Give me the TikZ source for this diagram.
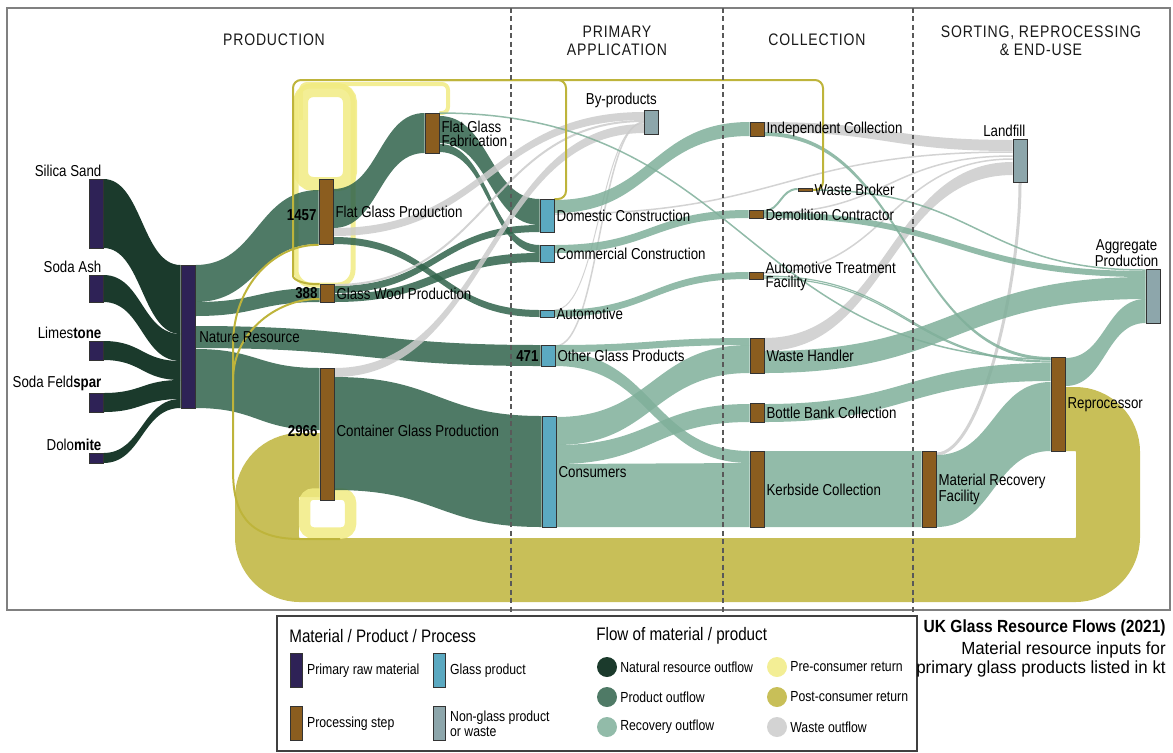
\documentclass[tikz,border=0pt]{standalone}
\usepackage{fontspec}
\setmainfont{Liberation Sans}[FakeStretch=0.84]
\newfontfamily\headfont{Liberation Sans}[FakeStretch=0.84,LetterSpace=5]
\newfontfamily\titlefont{Liberation Sans}[FakeStretch=0.96]
\newfontfamily\titleboldfont{Liberation Sans}[FakeStretch=0.885]
\usetikzlibrary{positioning,calc,backgrounds}

\definecolor{rawcol}{HTML}{2E2256}
\definecolor{proccol}{HTML}{8B5D1F}
\definecolor{glasscol}{HTML}{5BA9C1}
\definecolor{wastecol}{HTML}{8DA6AB}
\definecolor{natcol}{HTML}{1B3A2C}
\definecolor{prodcol}{RGB}{48,99,75}
\definecolor{reccol}{RGB}{127,175,154}
\definecolor{graycol}{RGB}{203,203,203}
\definecolor{precol}{RGB}{241,235,131}
\definecolor{postcol}{RGB}{190,180,59}

% band between two bars: style, from, top, bottom, to, top, bottom (px below the bar tops)
\newcommand{\flowband}[7]{%
  \fill[#1] let \p1=($(#2.north east)+(0,#3)$), \p2=($(#2.north east)+(0,#4)$),
    \p3=($(#5.north west)+(0,#6)$), \p4=($(#5.north west)+(0,#7)$) in
    (\p1) .. controls ({0.5*\x1+0.5*\x3},\y1) and ({0.5*\x1+0.5*\x3},\y3) .. (\p3)
    -- (\p4) .. controls ({0.5*\x1+0.5*\x3},\y4) and ({0.5*\x1+0.5*\x3},\y2) .. (\p2) -- cycle;}
% thin flow: style, from, offset, to, offset
\newcommand{\flowline}[5]{%
  \draw[#1] let \p1=($(#2.north east)+(0,#3)$), \p2=($(#4.north west)+(0,#5)$) in
    (\p1) .. controls ({0.5*\x1+0.5*\x2},\y1) and ({0.5*\x1+0.5*\x2},\y2) .. (\p2);}

\begin{document}
\begin{tikzpicture}[x=0.02cm, y=-0.02cm,
    rawbar/.style={draw=black!80, line width=0.5pt, fill=rawcol, inner sep=0pt, minimum width=0.28cm, anchor=north},
    procbar/.style={rawbar, fill=proccol},
    glassbar/.style={rawbar, fill=glasscol},
    wastebar/.style={rawbar, fill=wastecol},
    hgt/.style={minimum height=#1*0.02cm},
    lbl/.style={font=\fontsize{9}{8}\selectfont, inner sep=1pt, align=left},
    numlbl/.style={font=\bfseries\fontsize{9}{8}\selectfont, inner sep=1pt},
    sechead/.style={font=\headfont\fontsize{9.5}{10.2}\selectfont, align=center, text=black!90},
    natflow/.style={fill=natcol},
    prodflow/.style={fill=prodcol, fill opacity=0.85},
    recflow/.style={fill=reccol, fill opacity=0.85},
    wasteflow/.style={fill=graycol, fill opacity=0.85},
    recline/.style={draw=reccol, draw opacity=0.85, line width=#1*0.02cm},
    wasteline/.style={draw=graycol, draw opacity=0.85, line width=#1*0.02cm},
    preloop/.style={draw=precol, draw opacity=0.85},
    postband/.style={draw=postcol, draw opacity=0.85, line width=1.28cm, rounded corners=0.66cm},
    postline/.style={draw=postcol, line width=0.04cm},
    frame/.style={draw=black!50, line width=0.7pt},
    sect/.style={draw=black!65, line width=0.6pt, dash pattern=on 2.8pt off 2pt},
    legsw/.style={draw=black!80, line width=0.5pt, minimum width=0.24cm, minimum height=0.68cm, inner sep=0pt, anchor=north},
    legdot/.style={circle, minimum size=0.4cm, inner sep=0pt},
    legtxt/.style={font=\fontsize{8.3}{8.5}\selectfont, inner sep=1pt, align=left},
    leghead/.style={font=\fontsize{10.3}{12}\selectfont, inner sep=0pt, anchor=west}
]
    \useasboundingbox (0,0) rectangle (1173,752);

    % Raw materials
    \node[rawbar, hgt=69] (silica) at (96,179) {};
    \node[rawbar, hgt=27] (sodaash) at (96,275) {};
    \node[rawbar, hgt=19] (limestone) at (96,341) {};
    \node[rawbar, hgt=19] (feldspar) at (96,393) {};
    \node[rawbar, hgt=10] (dolomite) at (96,453) {};
    \node[rawbar, hgt=143] (natres) at (188,265) {};

    % Processing steps
    \node[procbar, hgt=65] (fgp) at (326,179) {};
    \node[procbar, hgt=18] (gwp) at (327,284) {};
    \node[procbar, hgt=132] (cgp) at (327,368) {};
    \node[procbar, hgt=40] (fgf) at (432,113) {};
    \node[procbar, hgt=14] (indcol) at (757,122) {};
    \node[procbar, hgt=3] (wbroker) at (805,188) {};
    \node[procbar, hgt=8] (demol) at (756,210) {};
    \node[procbar, hgt=7] (atf) at (756,272) {};
    \node[procbar, hgt=35] (whandler) at (757,338) {};
    \node[procbar, hgt=19] (bbank) at (757,403) {};
    \node[procbar, hgt=76] (kerb) at (757,451) {};
    \node[procbar, hgt=76] (mrf) at (929,451) {};
    \node[procbar, hgt=94] (reproc) at (1058,357) {};

    % Glass products
    \node[glassbar, hgt=33] (domcon) at (547,199) {};
    \node[glassbar, hgt=17] (comcon) at (547,245) {};
    \node[glassbar, hgt=7] (auto) at (547,310) {};
    \node[glassbar, hgt=21] (ogp) at (548,345) {};
    \node[glassbar, hgt=111] (consumers) at (549,416) {};

    % Non-glass products and waste
    \node[wastebar, hgt=24] (byprod) at (651.5,110) {};
    \node[wastebar, hgt=43] (landfill) at (1020,139) {};
    \node[wastebar, hgt=54] (aggreg) at (1153,269) {};

    \begin{scope}[on background layer]
    % Frame
    \draw[frame] (7,8) rectangle (1170,610);

    % Post-consumer return
    \draw[postband] ($(reproc.north east)+(0,62)$) -- (1108,419) -- (1108,570) -- (267,570) -- (267,465) -- ($(cgp.north west)+(0,97)$);

    % Pre-consumer return
    \draw[preloop, line width=0.28cm, rounded corners=0.24cm] (326,184) -- (350,184) -- (350,90) -- (301,90) -- (301,184) -- cycle;
    \draw[preloop, line width=0.1cm, rounded corners=0.3cm] (327,285) -- (353,285) -- (353,86) -- (296,86) -- (296,285) -- cycle;
    \draw[preloop, line width=0.23cm, rounded corners=0.18cm] (327,494) -- (350.5,494) -- (350.5,533) -- (304.5,533) -- (304.5,494) -- cycle;
    \draw[preloop, line width=0.08cm, rounded corners=0.12cm] (fgf.north east) -- (448,113) -- (448,84) -- (301,84) -- (301,120);

    % Natural resource outflow
    \flowband{natflow}{silica}{0}{69}{natres}{0}{69}
    \flowband{natflow}{sodaash}{0}{27}{natres}{69}{96}
    \flowband{natflow}{limestone}{0}{19}{natres}{96}{115}
    \flowband{natflow}{feldspar}{0}{19}{natres}{115}{134}
    \flowband{natflow}{dolomite}{0}{10}{natres}{134}{143}

    % Product outflow
    \flowband{prodflow}{natres}{0}{37}{fgp}{11}{65}
    \flowband{prodflow}{natres}{37}{51}{gwp}{4}{18}
    \flowband{prodflow}{natres}{61}{83}{ogp}{0}{21}
    \flowband{prodflow}{natres}{84}{143}{cgp}{0}{62}
    \flowband{prodflow}{fgp}{10}{49}{fgf}{0}{40}
    \flowband{prodflow}{fgp}{58}{65}{auto}{0}{7}
    \flowband{prodflow}{fgf}{3}{30}{domcon}{0}{26}
    \flowband{prodflow}{fgf}{31}{39}{comcon}{0}{8}
    \flowband{prodflow}{gwp}{2}{9}{domcon}{26}{33}
    \flowband{prodflow}{gwp}{10}{18}{comcon}{8}{17}
    \flowband{prodflow}{cgp}{9}{122}{consumers}{0}{111}

    % Waste outflow
    \flowband{wasteflow}{fgp}{49}{57}{byprod}{2}{10}
    \flowband{wasteflow}{cgp}{0}{9}{byprod}{14}{23}
    \flowline{wasteline=2}{gwp}{1}{byprod}{11}
    \flowline{wasteline=1.5}{ogp}{1}{byprod}{12}
    \flowline{wasteline=1}{auto}{0}{byprod}{13}
    \flowband{wasteflow}{indcol}{0}{10}{landfill}{1}{12}
    \flowline{wasteline=1.5}{domcon}{15}{landfill}{13}
    \flowline{wasteline=1.5}{demol}{3}{landfill}{17}
    \flowline{wasteline=1.5}{atf}{1}{landfill}{20}
    \flowband{wasteflow}{whandler}{0}{13}{landfill}{23}{36}
    \draw[wasteline=3] ($(mrf.north east)+(0,3)$) .. controls +(45,0) and +(0,100) .. (landfill.south);

    % Recovery outflow
    \flowband{recflow}{domcon}{1}{14}{indcol}{0}{14}
    \flowband{recflow}{comcon}{0}{8}{demol}{0}{8}
    \flowband{recflow}{auto}{0}{7}{atf}{0}{7}
    \flowband{recflow}{ogp}{0}{7}{whandler}{0}{7}
    \flowband{recflow}{ogp}{7}{21}{kerb}{0}{12}
    \flowband{recflow}{consumers}{1}{29}{whandler}{7}{35}
    \flowband{recflow}{consumers}{29}{48}{bbank}{1}{19}
    \flowband{recflow}{consumers}{48}{111}{kerb}{12}{76}
    \flowband{recflow}{kerb}{0}{76}{mrf}{0}{76}
    \flowband{recflow}{indcol}{10}{14}{reproc}{0}{3}
    \flowline{recline=1.5}{fgf}{0}{reproc}{2}
    \flowline{recline=2}{demol}{1}{wbroker}{1}
    \flowline{recline=1.5}{wbroker}{2}{aggreg}{1}
    \flowband{recflow}{demol}{2}{8}{aggreg}{2}{8}
    \flowline{recline=1.2}{atf}{4}{reproc}{4}
    \flowline{recline=1.2}{atf}{6}{reproc}{5}
    \flowband{recflow}{whandler}{13}{35}{aggreg}{8}{30}
    \flowband{recflow}{bbank}{1}{19}{reproc}{6}{24}
    \flowband{recflow}{mrf}{4}{76}{reproc}{25}{94}
    \flowband{recflow}{reproc}{1}{29}{aggreg}{30}{54}

    % Post-consumer return, thin
    \draw[postline, rounded corners=0.16cm] (wbroker.east) -- (823,190) -- (823,80) -- (293,80) -- (293,268) .. controls (293,280) and (305,285) .. (gwp.north west);
    \draw[postline, rounded corners=0.16cm] (domcon.north east) -- (566,199) -- (566,80) -- (420,80);
    \draw[postline] (340,539) -- (300,539) .. controls (245,539) and (233,510) .. (233,470) -- (233,345) .. controls (233,285) and (275,244) .. (fgp.south west);
    \draw[postline] (233,380) .. controls (233,330) and (280,298) .. ($(gwp.north west)+(0,15)$);

    % Stage borders
    \draw[sect] (511,8) -- (511,612);
    \draw[sect] (723,8) -- (723,612);
    \draw[sect] (913,8) -- (913,612);
    \end{scope}

    % Stage headings
    \node[sechead] (hprod) at (274,40) {PRODUCTION};
    \node[sechead] (happ) at (617,41) {PRIMARY\\APPLICATION};
    \node[sechead] (hcoll) at (817,40) {COLLECTION};
    \node[sechead] (hsort) at (1041,41) {SORTING, REPROCESSING\\\& END-USE};

    % Bar labels
    \node[lbl, anchor=south east] (silicalbl) at (silica.north east) {Silica Sand};
    \node[lbl, anchor=south east] (sodaashlbl) at (sodaash.north east) {Soda Ash};
    \node[lbl, anchor=south east] (limestonelbl) at (limestone.north east) {Limes\textbf{tone}};
    \node[lbl, anchor=south east] (feldsparlbl) at (feldspar.north east) {Soda Feld\textbf{spar}};
    \node[lbl, anchor=south east] (dolomitelbl) at (dolomite.north east) {Dolo\textbf{mite}};
    \node[lbl, right=1pt of natres] (natreslbl) {Nature Resource};
    \node[lbl, right=0pt of fgp] (fgplbl) {Flat Glass Production};
    \node[lbl, right=0pt of gwp] (gwplbl) {Glass Wool Production};
    \node[lbl, right=0pt of cgp, yshift=2pt] (cgplbl) {Container Glass Production};
    \node[lbl, right=0pt of fgf] (fgflbl) {Flat Glass\\Fabrication};
    \node[numlbl, left=0pt of fgp, yshift=-2pt] (fgpnum) {1457};
    \node[numlbl, left=0pt of gwp] (gwpnum) {388};
    \node[numlbl, left=0pt of cgp, yshift=2pt] (cgpnum) {2966};
    \node[numlbl, left=0pt of ogp] (ogpnum) {471};
    \node[lbl, anchor=south east] (byprodlbl) at (byprod.north east) {By-products};
    \node[lbl, right=0pt of domcon] (domconlbl) {Domestic Construction};
    \node[lbl, right=0pt of comcon] (comconlbl) {Commercial Construction};
    \node[lbl, right=0pt of auto] (autolbl) {Automotive};
    \node[lbl, right=0pt of ogp] (ogplbl) {Other Glass Products};
    \node[lbl, right=0pt of consumers] (consumerslbl) {Consumers};
    \node[lbl, right=0pt of indcol] (indcollbl) {Independent Collection};
    \node[lbl, right=0pt of wbroker] (wbrokerlbl) {Waste Broker};
    \node[lbl, right=0pt of demol] (demollbl) {Demolition Contractor};
    \node[lbl, right=0pt of atf] (atflbl) {Automotive Treatment\\Facility};
    \node[lbl, right=0pt of whandler] (whandlerlbl) {Waste Handler};
    \node[lbl, right=0pt of bbank] (bbanklbl) {Bottle Bank Collection};
    \node[lbl, right=0pt of kerb] (kerblbl) {Kerbside Collection};
    \node[lbl, right=0pt of mrf] (mrflbl) {Material Recovery\\Facility};
    \node[lbl, right=0pt of reproc] (reproclbl) {Reprocessor};
    \node[lbl, anchor=south east] (landfilllbl) at (landfill.north east) {Landfill};
    \node[lbl, align=center, anchor=south east] (aggreglbl) at (aggreg.north east) {Aggregate\\Production};

    % Legend
    \draw[draw=black!75, line width=0.7pt] (277,616) rectangle (917,751);
    \node[leghead] (lgmat) at (289,636) {Material / Product / Process};
    \node[legsw, fill=rawcol] (swraw) at (296,653) {};
    \node[legtxt, right=1.5pt of swraw] (swrawlbl) {Primary raw material};
    \node[legsw, fill=glasscol] (swglass) at (439,653) {};
    \node[legtxt, right=1.5pt of swglass] (swglasslbl) {Glass product};
    \node[legsw, fill=proccol] (swproc) at (296,706) {};
    \node[legtxt, right=1.5pt of swproc] (swproclbl) {Processing step};
    \node[legsw, fill=wastecol] (swwaste) at (439,706) {};
    \node[legtxt, right=1.5pt of swwaste] (swwastelbl) {Non-glass product\\or waste};
    \node[leghead] (lgflow) at (596,636) {Flow of material / product};
    \node[legdot, natflow] (dnat) at (607,667) {};
    \node[legtxt, right=0.5pt of dnat] (dnatlbl) {Natural resource outflow};
    \node[legdot, prodflow] (dprod) at (607,697) {};
    \node[legtxt, right=0.5pt of dprod] (dprodlbl) {Product outflow};
    \node[legdot, recflow] (drec) at (607,727) {};
    \node[legtxt, right=0.5pt of drec] (dreclbl) {Recovery outflow};
    \node[legdot, fill=precol, fill opacity=0.85] (dpre) at (777,667) {};
    \node[legtxt, right=0.5pt of dpre] (dprelbl) {Pre-consumer return};
    \node[legdot, fill=postcol, fill opacity=0.85] (dpost) at (777,697) {};
    \node[legtxt, right=0.5pt of dpost] (dpostlbl) {Post-consumer return};
    \node[legdot, wasteflow] (dwaste) at (777,727) {};
    \node[legtxt, right=0.5pt of dwaste] (dwastelbl) {Waste outflow};

    % Title
    \node[anchor=east, inner sep=0pt, font=\titleboldfont\bfseries\fontsize{10}{12}\selectfont] (ttl) at (1166,628) {UK Glass Resource Flows (2021)};
    \node[anchor=east, inner sep=0pt, font=\titlefont\fontsize{10}{12}\selectfont] (sub1) at (1166,650) {Material resource inputs for};
    \node[anchor=east, inner sep=0pt, font=\titlefont\fontsize{10}{12}\selectfont] (sub2) at (1166,669) {primary glass products listed in kt};
\end{tikzpicture}
\end{document}
